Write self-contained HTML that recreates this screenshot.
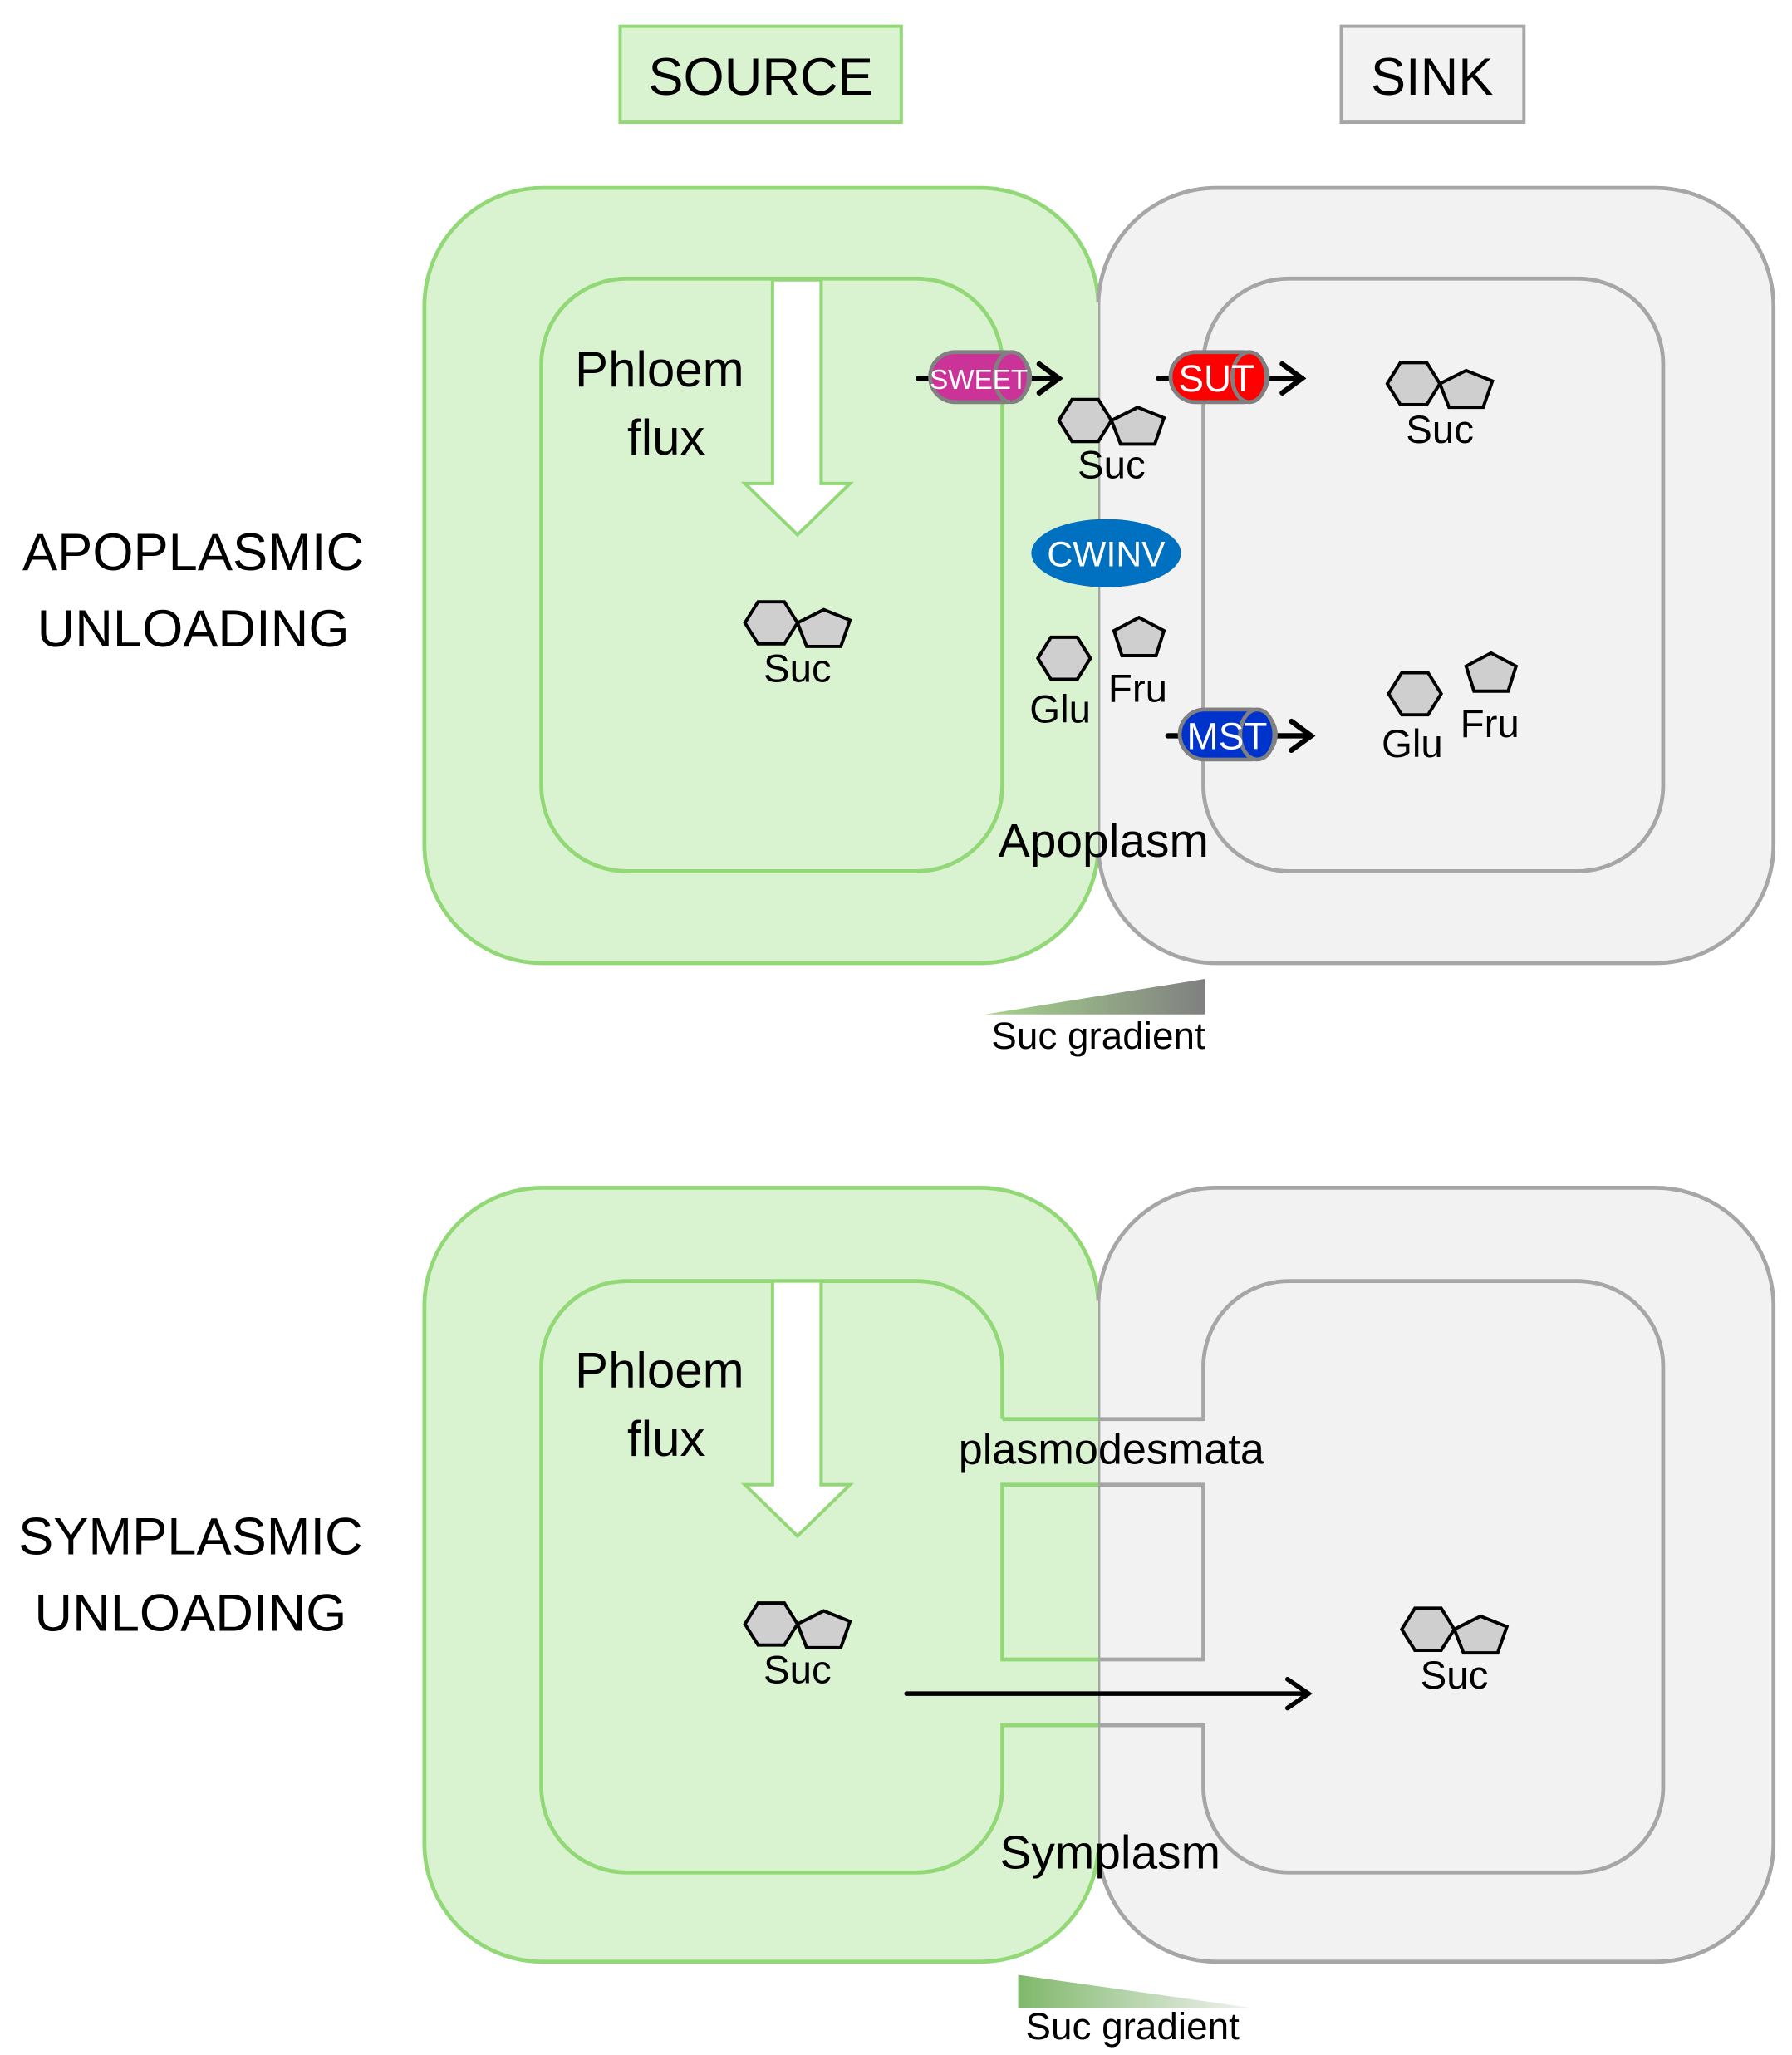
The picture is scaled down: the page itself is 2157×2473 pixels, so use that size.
<!DOCTYPE html>
<html><head><style>html,body{margin:0;padding:0;background:#fff}svg{display:block}</style></head><body>
<svg width="2157" height="2473" viewBox="0 0 1364 1564" xmlns="http://www.w3.org/2000/svg" font-family="Liberation Sans, sans-serif">
<defs>
<linearGradient id="g1" x1="0" x2="1" y1="0" y2="0"><stop offset="0" stop-color="#a6d48c"/><stop offset="1" stop-color="#808080"/></linearGradient>
<linearGradient id="g2" x1="0" x2="1" y1="0" y2="0"><stop offset="0" stop-color="#7fb86a"/><stop offset="1" stop-color="#f2f2f2"/></linearGradient>
<g id="suc"><polygon points="-40,0 -30,-16 -10,-16 0,0 -10,16 -30,16" fill="#cfcfcf" stroke="#000" stroke-width="2.5"/><polygon points="0,0 20,-10 40,-2 33,18 7,18" fill="#cfcfcf" stroke="#000" stroke-width="2.5"/></g>
<g id="hex"><polygon points="-20,0 -10,-16 10,-16 20,0 10,16 -10,16" fill="#cfcfcf" stroke="#000" stroke-width="2.5"/></g>
<g id="pent"><polygon points="0,-15 19,-5 13,14 -13,14 -19,-5" fill="#cfcfcf" stroke="#000" stroke-width="2.5"/></g>
</defs>
<!-- headers -->
<rect x="472" y="20" width="214" height="73" fill="#d9f2d0" stroke="#92d877" stroke-width="2.5"/>
<text x="579" y="72" font-size="40" text-anchor="middle">SOURCE</text>
<rect x="1021" y="20" width="139" height="73" fill="#f2f2f2" stroke="#a6a6a6" stroke-width="2.5"/>
<text x="1090" y="72" font-size="40" text-anchor="middle">SINK</text>
<text x="147" y="434" font-size="40" text-anchor="middle">APOPLASMIC</text>
<text x="147" y="492" font-size="40" text-anchor="middle">UNLOADING</text>
<text x="145" y="1183" font-size="40" text-anchor="middle">SYMPLASMIC</text>
<text x="145" y="1241" font-size="40" text-anchor="middle">UNLOADING</text>

<!-- TOP PANEL -->
<rect x="323" y="143" width="513" height="590" rx="90" fill="#d9f2d0" stroke="#92d877" stroke-width="3"/>
<rect x="836" y="143" width="514" height="590" rx="90" fill="#f2f2f2" stroke="#a6a6a6" stroke-width="3"/>
<rect x="763" y="230" width="73" height="420" fill="#d9f2d0"/>
<rect x="412" y="212" width="351" height="451" rx="65" fill="none" stroke="#92d877" stroke-width="3"/>
<rect x="916" y="212" width="350" height="451" rx="65" fill="none" stroke="#a6a6a6" stroke-width="3"/>
<polygon points="588,213 625,213 625,368 647,368 607,407 567,368 588,368" fill="#fff" stroke="#92d877" stroke-width="2.5"/>
<text x="502" y="294" font-size="38" text-anchor="middle">Phloem</text>
<text x="507" y="346" font-size="38" text-anchor="middle">flux</text>
<use href="#suc" x="607" y="474"/>
<text x="607" y="519" font-size="30" text-anchor="middle">Suc</text>
<use href="#suc" x="846" y="320"/>
<text x="846" y="364" font-size="30" text-anchor="middle">Suc</text>
<use href="#suc" x="1096" y="292"/>
<text x="1096" y="337" font-size="30" text-anchor="middle">Suc</text>
<ellipse cx="842" cy="421" rx="57" ry="26" fill="#0070c0"/>
<text x="842" y="431" font-size="27" fill="#fff" text-anchor="middle">CWINV</text>
<use href="#hex" x="810" y="501"/>
<text x="807" y="550" font-size="30" text-anchor="middle">Glu</text>
<use href="#pent" x="867" y="485"/>
<text x="866" y="534" font-size="30" text-anchor="middle">Fru</text>
<use href="#hex" x="1077" y="528"/>
<text x="1075" y="576" font-size="30" text-anchor="middle">Glu</text>
<use href="#pent" x="1135" y="512"/>
<text x="1134" y="561" font-size="30" text-anchor="middle">Fru</text>
<text x="840" y="652" font-size="36" text-anchor="middle">Apoplasm</text>
<!-- transporters -->
<g stroke="#000" stroke-width="4" fill="none" stroke-linecap="round">
<line x1="699" y1="288" x2="806" y2="288"/><polyline points="791,277 806,288 791,299"/>
<line x1="882" y1="288" x2="991" y2="288"/><polyline points="976,277 991,288 976,299"/>
<line x1="889" y1="560" x2="998" y2="560"/><polyline points="983,549 998,560 983,571"/>
</g>
<rect x="708" y="268" width="76" height="38" rx="19" fill="#cc3399" stroke="#808080" stroke-width="3"/>
<ellipse cx="770" cy="287" rx="13" ry="19" fill="#cc3399" stroke="#808080" stroke-width="3"/>
<text x="745" y="296" font-size="21" fill="#fff" text-anchor="middle">SWEET</text>
<rect x="891" y="268" width="74" height="38" rx="19" fill="#ff0000" stroke="#808080" stroke-width="3"/>
<ellipse cx="951" cy="287" rx="13" ry="19" fill="#ff0000" stroke="#808080" stroke-width="3"/>
<text x="926" y="298" font-size="29" fill="#fff" text-anchor="middle">SUT</text>
<rect x="898" y="540" width="73" height="38" rx="19" fill="#0033cc" stroke="#808080" stroke-width="3"/>
<ellipse cx="957" cy="559" rx="13" ry="19" fill="#0033cc" stroke="#808080" stroke-width="3"/>
<text x="934" y="570" font-size="29" fill="#fff" text-anchor="middle">MST</text>
<polygon points="750,772 917,745 917,772" fill="url(#g1)"/>
<text x="836" y="798" font-size="29" text-anchor="middle">Suc gradient</text>

<!-- BOTTOM PANEL -->
<rect x="323" y="904" width="513" height="589" rx="90" fill="#d9f2d0" stroke="#92d877" stroke-width="3"/>
<rect x="836" y="904" width="514" height="589" rx="90" fill="#f2f2f2" stroke="#a6a6a6" stroke-width="3"/>
<rect x="763" y="990" width="73" height="420" fill="#d9f2d0"/>
<g fill="none" stroke-width="3">
<path d="M763,1080 V1040 A65,65 0 0 0 698,975 H477 A65,65 0 0 0 412,1040 V1360 A65,65 0 0 0 477,1425 H698 A65,65 0 0 0 763,1360 V1313 H836" stroke="#92d877"/>
<path d="M763,1080 H836 M836,1130 H763 V1263 H836" stroke="#92d877"/>
<path d="M836,1080 H916 V1040 A65,65 0 0 1 981,975 H1201 A65,65 0 0 1 1266,1040 V1360 A65,65 0 0 1 1201,1425 H981 A65,65 0 0 1 916,1360 V1313 H836" stroke="#a6a6a6"/>
<path d="M836,1130 H916 V1263 H836" stroke="#a6a6a6"/>
</g>
<polygon points="588,975 625,975 625,1130 647,1130 607,1169 567,1130 588,1130" fill="#fff" stroke="#92d877" stroke-width="2.5"/>
<text x="502" y="1056" font-size="38" text-anchor="middle">Phloem</text>
<text x="507" y="1108" font-size="38" text-anchor="middle">flux</text>
<use href="#suc" x="607" y="1236"/>
<text x="607" y="1281" font-size="30" text-anchor="middle">Suc</text>
<use href="#suc" x="1107" y="1240"/>
<text x="1107" y="1285" font-size="30" text-anchor="middle">Suc</text>
<text x="846" y="1114" font-size="33" text-anchor="middle">plasmodesmata</text>
<g stroke="#000" stroke-width="3.5" fill="none" stroke-linecap="round">
<line x1="690" y1="1289" x2="996" y2="1289"/><polyline points="980,1278 996,1289 980,1300"/>
</g>
<text x="845" y="1422" font-size="36" text-anchor="middle">Symplasm</text>
<polygon points="775,1503 775,1528 952,1528" fill="url(#g2)"/>
<text x="862" y="1552" font-size="29" text-anchor="middle">Suc gradient</text>
</svg>
</body></html>
